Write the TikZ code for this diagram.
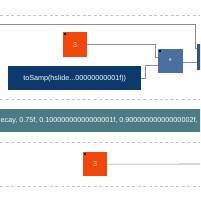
\documentclass[tikz,border=0pt]{standalone}
\usepackage{fontspec}
\setmainfont{Liberation Sans}
\definecolor{orangeC}{HTML}{F0480C}
\definecolor{blueC}{HTML}{4A6FA0}
\definecolor{navyC}{HTML}{0C3A6C}
\definecolor{rightC}{HTML}{2F5686}
\definecolor{tealC}{HTML}{4B7C86}
\definecolor{connC}{HTML}{8E8E8E}
\definecolor{dashC}{HTML}{C4C4C4}
\definecolor{peachC}{HTML}{FFD8C0}
\begin{document}
\begin{tikzpicture}[x=1pt,y=-1pt,
  box/.style={draw=none,inner sep=0pt,anchor=north west,text=white,font=\fontsize{7.2}{8}\selectfont},
  conn/.style={draw=connC,line width=0.6pt},
  sep/.style={draw=dashC,line width=0.8pt,dash pattern=on 3pt off 2.5pt},
  portdot/.style={fill=black}
]
\useasboundingbox (0,0) rectangle (200,200);
\clip (0,0) rectangle (200,200);
\fill[white] (0,0) rectangle (200,200);
% separators
\draw[sep] (0,15) -- (200,15);
\draw[sep] (0,99) -- (200,99);
\draw[sep] (0,142) -- (200,142);
\draw[sep] (0,186) -- (200,186);
% nodes
\node[box,fill=orangeC,minimum width=24pt,minimum height=25pt,text=peachC] (o1) at (63,32) {3};
\node[box,fill=blueC,minimum width=25pt,minimum height=24pt] (b1) at (157.5,49) {*};
\node[box,fill=navyC,minimum width=133pt,minimum height=24pt] (d1) at (8,66) {toSamp(hslide...00000000001f))};
\node[box,fill=rightC,minimum width=12pt,minimum height=26pt] (r1) at (197,44) {};
\node[box,fill=tealC,minimum width=204pt,minimum height=23pt] (t1) at (-2,109) {};
\node[anchor=west,inner sep=0pt,text=white,font=\fontsize{7.2}{8}\selectfont] (t1txt) at (0.5,120.5) {ecay, 0.75f, 0.10000000000000001f, 0.90000000000000002f,};
\node[box,fill=orangeC,minimum width=24pt,minimum height=24pt,text=peachC] (o2) at (83,152) {3};
% port dots
\fill[portdot] (o1.north west) ++(1,1) rectangle ++(2,2);
\fill[portdot] (b1.north west) ++(1,1) rectangle ++(2,2);
\fill[portdot] (o2.north west) ++(1,1) rectangle ++(2,2);
% connectors
\coordinate (top0) at (0,24);
\coordinate (o2out) at (202,164);
\draw[conn] (top0) -| (195,48) -- (r1.west |- 0,48);
\draw[conn] (b1.east |- 0,62) -- (r1.west |- 0,62);
\draw[conn] (o1.east) -| (155,57) -- (b1.west |- 0,57);
\draw[conn] (d1.east) -| (145,65) -- (b1.west |- 0,65);
\draw[conn] (o2.east) -- (o2out);
\end{tikzpicture}
\end{document}
